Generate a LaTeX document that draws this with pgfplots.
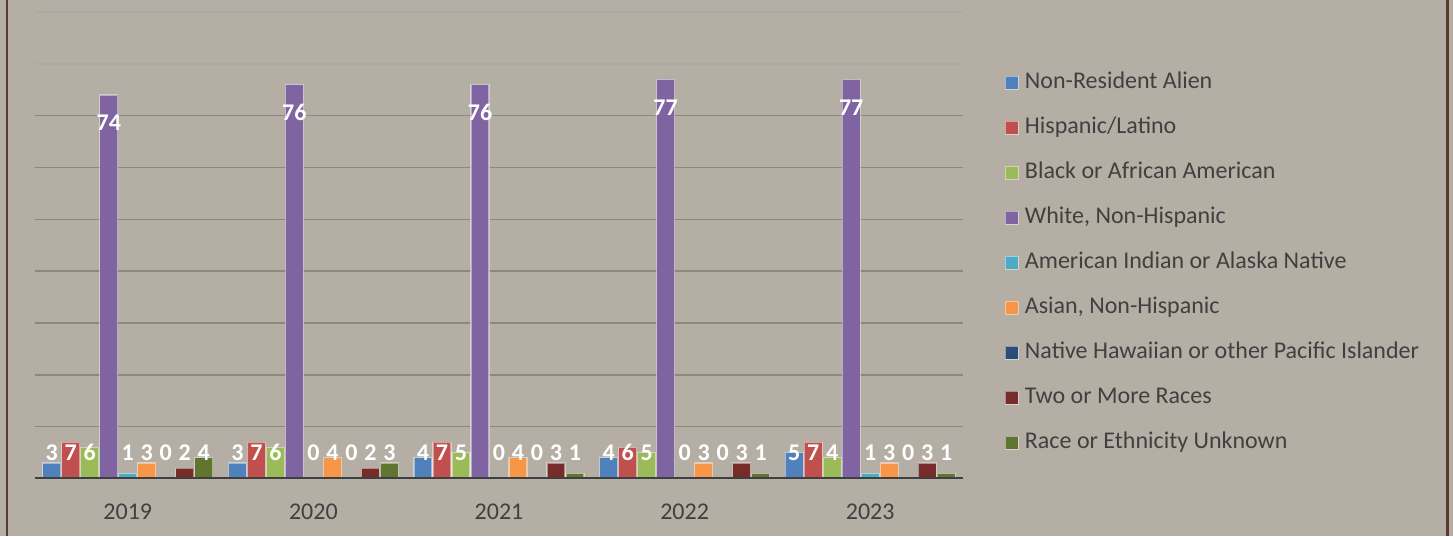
\documentclass[border=0pt]{standalone}
\usepackage{pgfplots}
\pgfplotsset{compat=1.18}
\usepackage{fontspec}
\setmainfont{Carlito}
\definecolor{bg}{HTML}{B5AEA5}
\definecolor{framec}{HTML}{5A3A2C}
\definecolor{gridd}{HTML}{8E8882}
\definecolor{gridl}{HTML}{ADA9A4}
\definecolor{txt}{HTML}{404040}
\definecolor{axisc}{HTML}{3F3F3F}
\definecolor{cA}{HTML}{4F81BD}
\definecolor{cB}{HTML}{C0504D}
\definecolor{cC}{HTML}{9BBB59}
\definecolor{cD}{HTML}{8064A2}
\definecolor{cE}{HTML}{4BACC6}
\definecolor{cF}{HTML}{F79646}
\definecolor{cG}{HTML}{2C4D75}
\definecolor{cH}{HTML}{772C2A}
\definecolor{cI}{HTML}{5F7530}
\pgfplotsset{
  smalllab/.style={nodes near coords,
    visualization depends on={rawy \as \rawy},
    every node near coord/.append style={anchor=center, yshift={(5-\rawy)*5.1833pt}}},
  biglab/.style={nodes near coords,
    every node near coord/.append style={anchor=center, yshift=-28pt}},
}
\begin{document}
\begin{tikzpicture}[x=1pt,y=1pt]
\useasboundingbox (0,0) rectangle (1453,536);
\fill[bg] (0,0) rectangle (1453,536);
\draw[framec, line width=2.2pt] (6.7,0) -- (6.7,536);
\draw[framec, line width=3pt] (1447.5,0) -- (1447.5,536);
\begin{axis}[
  at={(35pt,57.5pt)}, anchor=south west,
  scale only axis, width=928pt, height=466.5pt,
  xmin=-0.5, xmax=4.5, ymin=0, ymax=90,
  /pgf/number format/assume math mode=true,
  axis line style={draw=none},
  xtick={0,1,2,3,4}, xticklabels={2019,2020,2021,2022,2023},
  ytick={10,20,30,40,50,60,70}, yticklabels={},
  extra y ticks={80,90}, extra y tick labels={},
  extra y tick style={major grid style={gridl, line width=1.5pt}},
  major tick length=0pt,
  ymajorgrids, major grid style={gridd, line width=1.5pt},
  xticklabel style={font=\fontsize{24}{29}\selectfont, text=txt, yshift=-22pt},
  ybar=1pt, bar width=18pt,
  every axis plot/.append style={draw=white, draw opacity=0.45, line width=1.2pt},
  nodes near coords style={font=\fontsize{24}{29}\selectfont\bfseries, text=white, inner sep=0pt},
  legend image code/.code={\draw[#1, line width=1pt] (0pt,-6.5pt) rectangle (13pt,6.5pt);},
  legend cell align=left,
  legend style={draw=none, fill=none, at={(axis description cs:1.045,0.8757)}, anchor=north west,
    font=\fontsize{24}{29}\selectfont, text=txt, row sep=20pt, inner sep=0pt,
    nodes={inner sep=2pt, text height=16pt, text depth=5pt},
    /tikz/every odd column/.append style={column sep=4pt}},
]
\addplot[fill=cA, smalllab] coordinates {(0,3) (1,3) (2,4) (3,4) (4,5)};
\addlegendentry{Non-Resident Alien}
\addplot[fill=cB, smalllab] coordinates {(0,7) (1,7) (2,7) (3,6) (4,7)};
\addlegendentry{Hispanic/Latino}
\addplot[fill=cC, smalllab] coordinates {(0,6) (1,6) (2,5) (3,5) (4,4)};
\addlegendentry{Black or African American}
\addplot[fill=cD, biglab] coordinates {(0,74) (1,76) (2,76) (3,77) (4,77)};
\addlegendentry{White, Non-Hispanic}
\addplot[fill=cE, smalllab] coordinates {(0,1) (1,0) (2,0) (3,0) (4,1)};
\addlegendentry{American Indian or Alaska Native}
\addplot[fill=cF, smalllab] coordinates {(0,3) (1,4) (2,4) (3,3) (4,3)};
\addlegendentry{Asian, Non-Hispanic}
\addplot[fill=cG, smalllab] coordinates {(0,0) (1,0) (2,0) (3,0) (4,0)};
\addlegendentry{Native Hawaiian or other Pacific Islander}
\addplot[fill=cH, smalllab] coordinates {(0,2) (1,2) (2,3) (3,3) (4,3)};
\addlegendentry{Two or More Races}
\addplot[fill=cI, smalllab] coordinates {(0,4) (1,3) (2,1) (3,1) (4,1)};
\addlegendentry{Race or Ethnicity Unknown}
\draw[axisc, line width=3pt] (axis cs:-0.5,0) -- (axis cs:4.5,0);
\end{axis}
\end{tikzpicture}
\end{document}
